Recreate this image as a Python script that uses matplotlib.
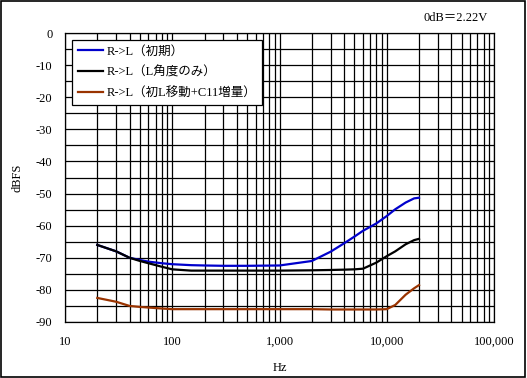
import matplotlib
matplotlib.use("Agg")
import matplotlib.pyplot as plt
from matplotlib.ticker import FixedLocator, NullFormatter, FuncFormatter
import matplotlib.patches as mpatches

plt.rcParams['font.family'] = ['Liberation Serif', 'Noto Sans CJK JP']
plt.rcParams['axes.unicode_minus'] = False

freq = [20, 30, 40, 50, 60, 80, 100, 150, 200, 300, 500, 1000, 2000, 3000, 4000, 5000, 6000, 8000, 10000, 12000, 15000, 18000, 20000]
blue = [-66.0, -68.0, -70.0, -70.7, -71.2, -71.7, -72.0, -72.3, -72.4, -72.5, -72.5, -72.4, -71.0, -68.1, -65.5, -63.4, -61.6, -59.3, -57.0, -54.9, -52.8, -51.5, -51.3]
black = [-66.0, -68.0, -70.0, -71.0, -71.7, -72.8, -73.6, -74.0, -74.0, -74.0, -74.0, -74.0, -73.9, -73.8, -73.7, -73.6, -73.4, -71.5, -69.5, -68.0, -65.8, -64.5, -64.1]
brown = [-82.5, -83.7, -85.0, -85.3, -85.5, -85.8, -86.0, -86.0, -86.0, -86.0, -86.0, -86.0, -86.0, -86.1, -86.1, -86.1, -86.1, -86.1, -86.0, -84.7, -81.5, -79.5, -78.5]

labels = ["R->L（初期）", "R->L（L角度のみ）", "R->L（初L移動+C11増量）"]
colors = ["#0000CC", "#000000", "#993300"]
yticks = [0, -10, -20, -30, -40, -50, -60, -70, -80, -90]
xticks = [10, 100, 1000, 10000, 100000]

fig = plt.figure(figsize=(5.27, 3.78), dpi=100)
ax = fig.add_axes([65/527, 1-322/378, (494-65)/527, (322-33)/378])

ax.set_xscale('log')
ax.set_xlim(10, 100000)
ax.set_ylim(-90, 0)

for y, c, l in zip([blue, black, brown], colors, labels):
    ax.plot(freq, y, color=c, lw=1.6, label=l, zorder=3)

ax.xaxis.set_major_locator(FixedLocator(xticks))
minors = [m * 10**e for e in range(1, 5) for m in range(2, 10)]
ax.xaxis.set_minor_locator(FixedLocator(minors))
ax.xaxis.set_minor_formatter(NullFormatter())
ax.xaxis.set_major_formatter(FuncFormatter(lambda v, p: f"{int(v):,}"))
ax.yaxis.set_major_locator(FixedLocator(yticks))
ax.yaxis.set_minor_locator(FixedLocator(list(range(-85, 0, 10))))
ax.grid(True, which='both', color='black', lw=0.9)
ax.tick_params(which='both', length=0, labelsize=9)
ax.tick_params(axis='x', pad=10)
ax.tick_params(axis='y', pad=9)
for s in ax.spines.values():
    s.set_linewidth(0.9)

ax.set_xlabel("Hz", fontsize=9, labelpad=10)
ax.set_ylabel("dBFS", fontsize=9, labelpad=9)

leg = ax.legend(loc='upper left', bbox_to_anchor=(7/429, 1-7/289), fontsize=9,
                fancybox=False, framealpha=1, edgecolor='black',
                handlelength=2.0, handletextpad=0.3, borderpad=0.45,
                labelspacing=0.7, borderaxespad=0)
leg.get_frame().set_linewidth(0.9)
leg.set_zorder(5)

fig.text(488/527, 1-18/378, "0dB＝2.22V", ha='right', va='center', fontsize=9)

fig.patches.append(mpatches.Rectangle((0.002, 0.003), 0.995, 0.994, transform=fig.transFigure,
                                      fill=False, edgecolor='black', lw=1.2))

fig.savefig("out.png", dpi=100)
